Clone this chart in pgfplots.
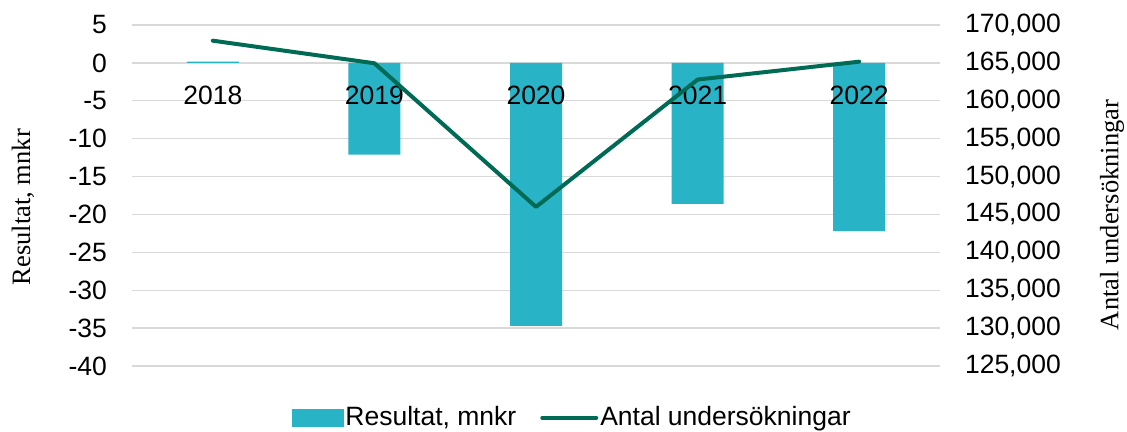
\documentclass[border=0pt]{standalone}
\usepackage{fontspec}
\setmainfont{Liberation Sans}
\newfontfamily\seriffont{Liberation Serif}
\usepackage{pgfplots}
\pgfplotsset{compat=1.18}
\definecolor{barc}{HTML}{29B3C6}
\definecolor{linec}{HTML}{006B55}
\definecolor{gridc}{HTML}{D9D9D9}
\begin{document}
\fontsize{26.5}{31}\selectfont
\begin{tikzpicture}
\begin{axis}[
  name=main,
  scale only axis,
  width=808pt, height=341pt,
  xmin=-0.5, xmax=4.5,
  ymin=-40, ymax=5,
  ytick={-40,-35,...,5},
  xtick=\empty,
  axis line style={draw=none},
  major tick length=0pt,
  ymajorgrids, grid style={gridc, line width=1.3pt},
  font=\fontsize{26.5}{31}\selectfont,
  /pgf/number format/assume math mode=true,
  yticklabel style={xshift=-16pt},
  ylabel={\seriffont Resultat, mnkr},
  ylabel style={at={(axis description cs:-0.135,0.466)}, anchor=center},
  clip=false,
]
\addplot[ybar, bar width=52pt, fill=barc, draw=none, bar shift=0pt] coordinates {
(0,0.15) (1,-12.1) (2,-34.7) (3,-18.6) (4,-22.2)
};
\end{axis}
\begin{axis}[
  scale only axis,
  width=808pt, height=341pt,
  xmin=-0.5, xmax=4.5,
  ymin=125000, ymax=170000,
  ytick={125000,130000,135000,140000,145000,150000,155000,160000,165000,170000},
  scaled y ticks=false,
  yticklabel={\pgfmathprintnumber[fixed,precision=0,1000 sep={,},assume math mode=true]{\tick}},
  xtick={0,1,2,3,4},
  xticklabels={2018,2019,2020,2021,2022},
  xticklabel style={anchor=north, yshift=289pt},
  axis x line*=bottom,
  axis y line*=right,
  axis line style={draw=none},
  major tick length=0pt,
  font=\fontsize{26.5}{31}\selectfont,
  yticklabel style={xshift=16pt},
  ylabel={\seriffont Antal undersökningar},
  ylabel style={at={(axis description cs:1.213,0.443)}, anchor=center, rotate=0},
  legend columns=2,
  legend style={at={(axis description cs:0.545,-0.152)}, anchor=center, draw=none, fill=none,
    font=\fontsize{26.5}{31}\selectfont,
    /tikz/every even column/.append style={column sep=22pt}},
  clip=false,
]
\addlegendimage{legend image code/.code={\fill[barc] (-4pt,-8pt) rectangle (47pt,9pt);}}
\addlegendentry{Resultat, mnkr}
\addplot[linec, line width=4pt, line join=round, line cap=round, mark=none,
  legend image code/.code={\draw[linec, line width=4pt, line cap=round] (-4pt,0pt) -- (50pt,0pt);}] coordinates {
(0,167930) (1,164950) (2,146000) (3,162800) (4,165160)
};
\addlegendentry{Antal undersökningar}
\end{axis}
\pgfresetboundingbox
\path[use as bounding box] ([xshift=-132pt,yshift=-66pt]main.south west) rectangle ([xshift=187pt,yshift=25pt]main.north east);
\end{tikzpicture}
\end{document}
